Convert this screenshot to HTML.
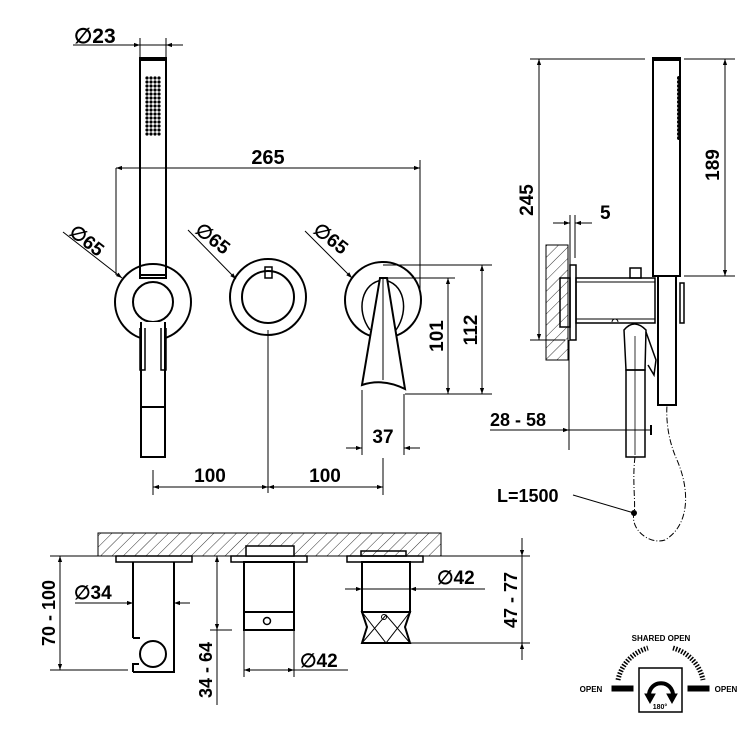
<!DOCTYPE html>
<html><head><meta charset="utf-8"><style>html,body{margin:0;padding:0;background:#fff}svg{display:block}text{font-family:"Liberation Sans",Arial,sans-serif;font-weight:bold;fill:#000}</style></head>
<body>
<svg width="750" height="750" viewBox="0 0 750 750" xmlns="http://www.w3.org/2000/svg">
<defs>
<marker id="a" viewBox="0 0 10 10" refX="10" refY="5" markerWidth="8" markerHeight="6" orient="auto-start-reverse" markerUnits="userSpaceOnUse"><path d="M0,1.5L10,5L0,8.5z" fill="#000"/></marker>
<pattern id="h" width="8" height="8" patternUnits="userSpaceOnUse" patternTransform="rotate(45)"><line x1="0" y1="0" x2="0" y2="8" stroke="#000" stroke-width="0.8"/></pattern>
</defs>
<g fill="none" stroke="#000" stroke-width="1">
<line x1="73" y1="45" x2="183" y2="45"/>
<line x1="120" y1="45" x2="140" y2="45" marker-end="url(#a)"/>
<line x1="183" y1="45" x2="166" y2="45" marker-end="url(#a)"/>
<line x1="140" y1="38" x2="140" y2="58"/><line x1="166" y1="38" x2="166" y2="58"/>
<rect x="140" y="58" width="26" height="220" stroke-width="2"/>
<line x1="140" y1="60" x2="166" y2="60" stroke-width="2"/>
<line x1="140" y1="275" x2="166" y2="275" stroke-width="2"/>
<line x1="116" y1="168" x2="420" y2="168" marker-start="url(#a)" marker-end="url(#a)"/>
<line x1="116" y1="168" x2="116" y2="275"/><line x1="420" y1="160" x2="420" y2="290"/>
<circle cx="153" cy="302" r="38" stroke-width="2"/>
<circle cx="153" cy="302" r="20" stroke-width="2"/>
<path d="M141,322 L141,457 L165,457 L165,322" stroke-width="2" fill="#fff"/>
<line x1="141" y1="407" x2="165" y2="407" stroke-width="2"/>
<path d="M140,328 L140,370 L145,370 L145,328 M166,328 L166,370 L161,370 L161,328" stroke-width="1.5"/>
<line x1="63" y1="232" x2="122" y2="278" marker-end="url(#a)"/>
<line x1="188" y1="230" x2="236" y2="279" marker-end="url(#a)"/>
<line x1="305" y1="231" x2="352" y2="278" marker-end="url(#a)"/>
<circle cx="268" cy="297" r="38" stroke-width="2"/>
<circle cx="268" cy="297" r="26" stroke-width="2"/>
<rect x="265" y="267" width="7" height="11" stroke-width="1.5"/>
<line x1="268" y1="330" x2="268" y2="493"/>
<circle cx="383" cy="300" r="38" stroke-width="2"/>
<path d="M370,330 C355,310 362,282 383,280 C404,282 410,310 396,330" stroke-width="1.5"/>
<path d="M380,278 L362,385 Q383,378 405,389 L387,278 Z" stroke-width="2" fill="#fff"/>
<line x1="383" y1="278" x2="383" y2="380"/>
<line x1="383" y1="278" x2="455" y2="278"/><line x1="383" y1="265" x2="492" y2="265"/>
<line x1="405" y1="394" x2="492" y2="394"/>
<line x1="448" y1="278" x2="448" y2="394" marker-start="url(#a)" marker-end="url(#a)"/>
<line x1="482" y1="265" x2="482" y2="394" marker-start="url(#a)" marker-end="url(#a)"/>
<line x1="362" y1="390" x2="362" y2="455"/><line x1="404" y1="394" x2="404" y2="455"/>
<line x1="346" y1="448" x2="362" y2="448" marker-end="url(#a)"/>
<line x1="420" y1="448" x2="404" y2="448" marker-end="url(#a)"/>
<line x1="153" y1="470" x2="153" y2="495"/><line x1="383" y1="458" x2="383" y2="495"/>
<line x1="153" y1="487" x2="268" y2="487" marker-start="url(#a)" marker-end="url(#a)"/>
<line x1="268" y1="487" x2="383" y2="487" marker-start="url(#a)" marker-end="url(#a)"/>

<line x1="530" y1="59" x2="645" y2="59"/>
<line x1="539" y1="59" x2="539" y2="340" marker-start="url(#a)" marker-end="url(#a)"/>
<line x1="530" y1="340" x2="565" y2="340"/>
<rect x="653" y="58" width="27" height="218" stroke-width="2"/>
<line x1="653" y1="60" x2="680" y2="60" stroke-width="2"/>
<rect x="658" y="276" width="18" height="129" stroke-width="2"/>
<rect x="680" y="283" width="4" height="40" stroke-width="1.5"/>
<line x1="684" y1="59" x2="735" y2="59"/><line x1="684" y1="276" x2="735" y2="276"/>
<line x1="725" y1="59" x2="725" y2="276" marker-start="url(#a)" marker-end="url(#a)"/>
<line x1="570" y1="215" x2="570" y2="265"/><line x1="575" y1="215" x2="575" y2="258"/>
<line x1="553" y1="223" x2="570" y2="223" marker-end="url(#a)"/>
<line x1="592" y1="223" x2="575" y2="223" marker-end="url(#a)"/>
<rect x="546" y="245" width="22" height="115" fill="url(#h)"/>
<rect x="570" y="265" width="6" height="75" stroke-width="1.5"/>
<rect x="560" y="278" width="10" height="49" stroke-width="1.5"/>
<rect x="576" y="278" width="79" height="45" stroke-width="1.5"/>
<line x1="576" y1="282" x2="655" y2="282"/><line x1="576" y1="319" x2="655" y2="319"/>
<rect x="630" y="268" width="11" height="10" stroke-width="1.5"/>
<path d="M612,322 a3,3 0 0 1 6,0" />
<path d="M624,330 Q634,318 646,330 L645,370 L626,370 Z" stroke-width="1.5" fill="#fff"/>
<path d="M646,332 L656,360 L654,375 L648,365" stroke-width="1.5"/>
<rect x="626" y="370" width="19" height="87" stroke-width="1.5"/>
<line x1="635" y1="336" x2="635" y2="455" stroke-width="0.8"/>
<line x1="490" y1="430" x2="569" y2="430" marker-end="url(#a)"/>
<line x1="569" y1="430" x2="651" y2="430"/><line x1="651" y1="425" x2="651" y2="435" stroke-width="2"/>
<line x1="569" y1="340" x2="569" y2="450"/>
<path d="M635,457 C632,480 636,505 634,513 C630,530 650,545 665,540 C690,525 690,490 677,460 C668,440 666,420 667,405" stroke-dasharray="6,2,1,2"/>
<circle cx="634" cy="513" r="2.5" fill="#000"/>
<line x1="573" y1="495" x2="634" y2="513"/>

<rect x="98" y="533" width="343" height="23" fill="url(#h)"/>
<rect x="116" y="556" width="76" height="6" stroke-width="1.5" fill="#fff"/>
<rect x="231" y="556" width="76" height="6" stroke-width="1.5" fill="#fff"/>
<rect x="347" y="556" width="76" height="6" stroke-width="1.5" fill="#fff"/>
<path d="M133,562 L133,638 M133,672 L174,672 L174,562" stroke-width="2"/>
<path d="M133,638 L140,638 M133,672 L133,664 L139,664" stroke-width="2"/>
<circle cx="153" cy="654" r="13" stroke-width="2"/>
<line x1="60" y1="556" x2="60" y2="670" marker-start="url(#a)" marker-end="url(#a)"/>
<line x1="50" y1="556" x2="116" y2="556"/><line x1="50" y1="670" x2="128" y2="670"/>
<line x1="75" y1="603" x2="133" y2="603"/>
<line x1="115" y1="603" x2="133" y2="603" marker-end="url(#a)"/>
<line x1="190" y1="603" x2="174" y2="603" marker-end="url(#a)"/>
<rect x="246" y="546" width="48" height="10" stroke-width="1.5" fill="#fff"/>
<rect x="244" y="562" width="50" height="68" stroke-width="2"/>
<line x1="244" y1="612" x2="294" y2="612" stroke-width="2"/>
<circle cx="267" cy="621" r="3.5" stroke-width="1.5"/>
<line x1="217" y1="556" x2="217" y2="630" marker-start="url(#a)" marker-end="url(#a)"/>
<line x1="210" y1="630" x2="232" y2="630"/><line x1="217" y1="630" x2="217" y2="705"/>
<line x1="244" y1="630" x2="244" y2="677"/><line x1="294" y1="630" x2="294" y2="677"/>
<line x1="244" y1="670" x2="294" y2="670" marker-start="url(#a)" marker-end="url(#a)"/>
<line x1="294" y1="670" x2="348" y2="670"/>
<rect x="361" y="551" width="45" height="5" stroke-width="1.5"/>
<rect x="362" y="562" width="48" height="50" stroke-width="2"/>
<path d="M362,612 L410,612 L405,627 L410,643 L362,643 L367,627 Z" stroke-width="2"/>
<path d="M362,612 L386,643 L410,612 M362,643 L386,615 L410,643" stroke-width="1"/>
<circle cx="384" cy="617" r="2.5"/>
<line x1="345" y1="589" x2="362" y2="589" marker-end="url(#a)"/>
<line x1="485" y1="589" x2="410" y2="589" marker-end="url(#a)"/>
<line x1="362" y1="589" x2="410" y2="589"/>
<line x1="440" y1="556" x2="530" y2="556"/><line x1="410" y1="643" x2="530" y2="643"/>
<line x1="522" y1="538" x2="522" y2="556" marker-end="url(#a)"/>
<line x1="522" y1="660" x2="522" y2="643" marker-end="url(#a)"/>
<line x1="522" y1="556" x2="522" y2="643"/>
<rect x="639" y="668" width="43" height="44" stroke-width="1.5"/>
<rect x="612" y="686" width="21" height="5" fill="#000"/>
<rect x="688" y="686" width="21" height="5" fill="#000"/>
<path d="M618,680 A42,42 0 0 1 648,648" stroke-width="5" stroke-dasharray="1.5,1.5"/>
<path d="M673,648 A42,42 0 0 1 703,680" stroke-width="5" stroke-dasharray="1.5,1.5"/>
<path d="M650,700 A12,12 0 1 1 672,700" stroke-width="4"/>
<path d="M645,694 L650,703 L655,694 Z M667,694 L672,703 L677,694 Z" fill="#000"/>
</g>
<g font-size="19">
<text x="74" y="43" font-size="21">∅23</text>
<text x="268" y="164" text-anchor="middle" font-size="20">265</text>
<text transform="translate(68,234) rotate(38)" font-size="19">∅65</text>
<text transform="translate(194,232) rotate(38)" font-size="19">∅65</text>
<text transform="translate(312,232) rotate(38)" font-size="19">∅65</text>
<text transform="translate(443,336) rotate(-90)" text-anchor="middle">101</text>
<text transform="translate(477,330) rotate(-90)" text-anchor="middle">112</text>
<text x="383" y="443" text-anchor="middle">37</text>
<text x="210" y="482" text-anchor="middle">100</text>
<text x="325" y="482" text-anchor="middle">100</text>
<text transform="translate(533,200) rotate(-90)" text-anchor="middle">245</text>
<text transform="translate(719,165) rotate(-90)" text-anchor="middle">189</text>
<text x="600" y="219">5</text>
<text x="490" y="426" font-size="18">28 - 58</text>
<text x="497" y="502" font-size="18">L=1500</text>
<text transform="translate(55,613) rotate(-90)" text-anchor="middle" font-size="18">70 - 100</text>
<text x="74" y="599">∅34</text>
<text transform="translate(212,670) rotate(-90)" text-anchor="middle" font-size="18">34 - 64</text>
<text x="300" y="667">∅42</text>
<text x="437" y="584">∅42</text>
<text transform="translate(517,600) rotate(-90)" text-anchor="middle" font-size="18">47 - 77</text>
<text x="661" y="641" text-anchor="middle" font-size="8">SHARED OPEN</text>
<text x="591" y="692" text-anchor="middle" font-size="8">OPEN</text>
<text x="726" y="692" text-anchor="middle" font-size="8">OPEN</text>
<text x="660" y="709" text-anchor="middle" font-size="7">180°</text>
</g>
<g fill="#000">
<g id="d"><circle cx="147" cy="78" r="1.6"/><circle cx="151" cy="78" r="1.6"/><circle cx="155" cy="78" r="1.6"/><circle cx="159" cy="78" r="1.6"/></g>
<use href="#d" y="4"/><use href="#d" y="8"/><use href="#d" y="12"/><use href="#d" y="16"/><use href="#d" y="20"/><use href="#d" y="24"/><use href="#d" y="28"/><use href="#d" y="32"/><use href="#d" y="36"/><use href="#d" y="40"/><use href="#d" y="44"/><use href="#d" y="48"/><use href="#d" y="52"/><use href="#d" y="56"/>
<g id="s"><circle cx="679" cy="78" r="2"/><circle cx="679" cy="82" r="2"/><circle cx="679" cy="86" r="2"/><circle cx="679" cy="90" r="2"/><circle cx="679" cy="94" r="2"/><circle cx="679" cy="98" r="2"/><circle cx="679" cy="102" r="2"/><circle cx="679" cy="106" r="2"/></g>
<use href="#s" y="32"/>
</g>
</svg>
</body></html>
